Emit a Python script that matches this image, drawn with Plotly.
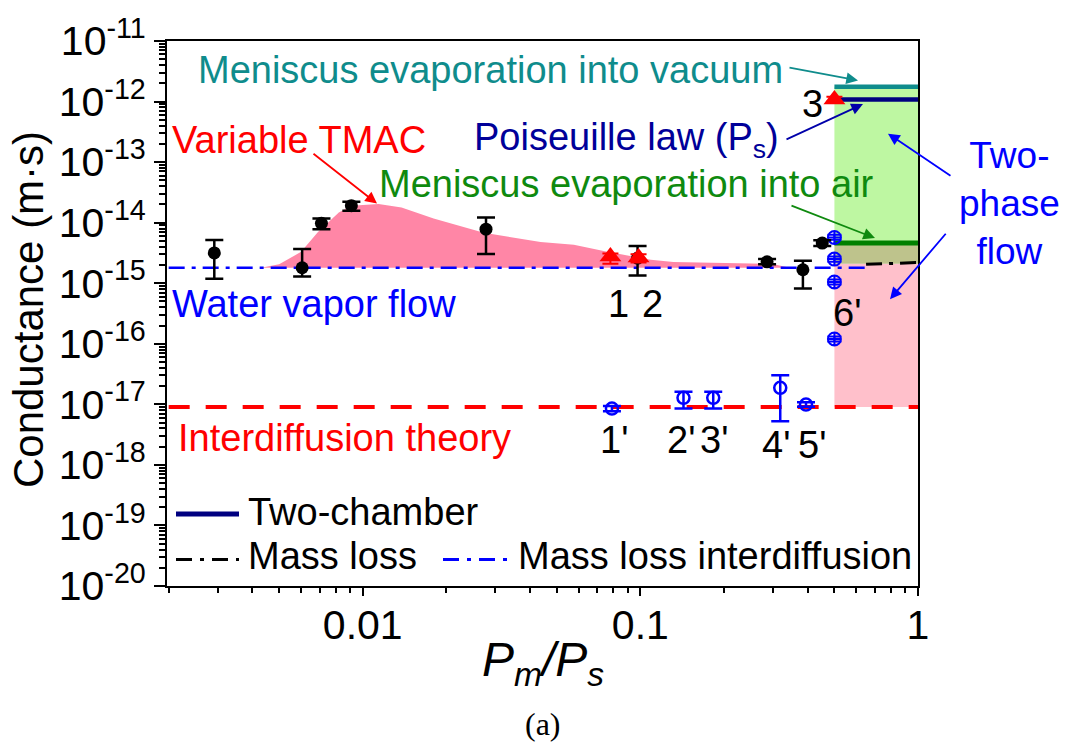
import plotly.graph_objects as go

# ---------------- data ----------------
# Variable-TMAC band: upper edge (lower edge = water vapour flow level)
tmac_x = [0.0043, 0.0050, 0.0060, 0.0069, 0.0082, 0.0091, 0.0114, 0.0138, 0.018,
          0.0273, 0.0437, 0.0576, 0.076, 0.109, 0.1315, 0.30, 0.345]
tmac_y = [1.8e-15, 2.05e-15, 3.3e-15, 7.0e-15, 1.47e-14, 1.9e-14, 2.04e-14, 1.78e-14,
          1.17e-14, 6.8e-15, 4.8e-15, 4.3e-15, 3.3e-15, 2.45e-15, 2.25e-15, 2.08e-15, 1.8e-15]

water_vapor_x = [0.002, 0.65]
water_vapor_level = 1.8e-15
mass_loss_x = [0.65, 1.0]
mass_loss_y = [2.05e-15, 2.2e-15]
interdiff_x = [0.002, 1.0]
interdiff_level = 9.0e-18

two_phase_x = [0.5, 1.0]
vacuum_level = 1.76e-12
poiseuille_level = 1.08e-12
air_level = 4.6e-15
two_phase_mid = 2.1e-15

# mass-loss measurements (black)
ml_x = [0.00292, 0.00605, 0.0071, 0.0091, 0.0278, 0.0977, 0.286, 0.385, 0.452]
ml_y = [3.17e-15, 1.8e-15, 9.75e-15, 1.91e-14, 7.8e-15, 2.6e-15, 2.26e-15, 1.67e-15, 4.6e-15]
ml_hi = [5.15e-15, 3.68e-15, 1.17e-14, 2.22e-14, 1.22e-14, 4.1e-15, 2.5e-15, 2.34e-15, 5.1e-15]
ml_lo = [1.19e-15, 1.29e-15, 7.8e-15, 1.58e-14, 3.05e-15, 1.34e-15, 2.05e-15, 8.2e-16, 4.1e-15]

# two-chamber measurements (red triangles)
tc_x = [0.078, 0.0985, 0.5]
tc_y = [2.75e-15, 2.65e-15, 1.08e-12]
tc_hi = [3.1e-15, 3.0e-15, 1.2e-12]
tc_lo = [2.1e-15, 2.2e-15, 1.0e-12]

# mass-loss interdiffusion measurements (blue open circles)
id_x = [0.079, 0.143, 0.183, 0.319, 0.395]
id_y = [8.5e-18, 1.28e-17, 1.28e-17, 1.87e-17, 9.9e-18]
id_hi = [9.4e-18, 1.61e-17, 1.61e-17, 3.03e-17, 1.08e-17]
id_lo = [7.7e-18, 8.5e-18, 8.5e-18, 5.25e-18, 9.1e-18]
# point 6' group
id6_x = [0.5, 0.5, 0.5, 0.5]
id6_y = [5.7e-15, 2.5e-15, 1.05e-15, 1.2e-16]
id6_hi = [6.3e-15, 2.75e-15, 1.15e-15, 1.32e-16]
id6_lo = [5.2e-15, 2.27e-15, 0.95e-15, 1.09e-16]

y_tick_exp = list(range(-20, -10))
x_tick_vals = [0.01, 0.1, 1]
x_tick_text = ["0.01", "0.1", "1"]

# ---------------- styling ----------------
FONT = "Liberation Sans, Arial, sans-serif"
TEAL = "#0f8c8c"
NAVY = "#000080"
GREEN = "#008000"
BLUE = "#0000ff"
RED = "#ff0000"
TXT = 38

L, R, T, B = 167, 918, 33, 586
W, H = 1066, 742


def pxp(x):
    return (x - L) / (R - L)


def pyp(y):
    return (B - y) / (B - T)


fig = go.Figure()


def band(xs, lo, hi, color):
    fig.add_trace(go.Scatter(
        x=[xs[0], xs[1], xs[1], xs[0], xs[0]],
        y=[lo, lo, hi, hi, lo],
        mode="lines", fill="toself", fillcolor=color,
        line=dict(width=0), hoverinfo="skip", showlegend=False))


band(two_phase_x, interdiff_level, two_phase_mid, "#ffc0cb")
band(two_phase_x, two_phase_mid, air_level, "#bec38c")
band(two_phase_x, air_level, vacuum_level, "#bef7a2")

# TMAC pink area
fig.add_trace(go.Scatter(
    x=tmac_x + tmac_x[::-1],
    y=tmac_y + [water_vapor_level] * len(tmac_x),
    mode="lines", fill="toself", fillcolor="#ff86a6",
    line=dict(width=0), hoverinfo="skip", showlegend=False))

# theory lines
fig.add_trace(go.Scatter(x=interdiff_x, y=[interdiff_level] * 2, mode="lines",
                         line=dict(color=RED, width=4, dash="21px,16px"), showlegend=False))
fig.add_trace(go.Scatter(x=water_vapor_x, y=[water_vapor_level] * 2, mode="lines",
                         line=dict(color=BLUE, width=2.5, dash="16px,7px,4px,7px"), showlegend=False))
fig.add_trace(go.Scatter(x=mass_loss_x, y=mass_loss_y, mode="lines",
                         line=dict(color="black", width=3, dash="16px,7px,4px,7px"), showlegend=False))
fig.add_trace(go.Scatter(x=two_phase_x, y=[vacuum_level] * 2, mode="lines",
                         line=dict(color=TEAL, width=4.5), showlegend=False))
fig.add_trace(go.Scatter(x=two_phase_x, y=[poiseuille_level] * 2, mode="lines",
                         line=dict(color=NAVY, width=4.5), showlegend=False))
fig.add_trace(go.Scatter(x=two_phase_x, y=[air_level] * 2, mode="lines",
                         line=dict(color=GREEN, width=5), showlegend=False))


def err(y, hi, lo):
    return dict(type="data", symmetric=False,
                array=[h - v for h, v in zip(hi, y)],
                arrayminus=[v - l for v, l in zip(y, lo)])


# blue interdiffusion points
e = err(id_y, id_hi, id_lo)
e.update(color=BLUE, thickness=2.5, width=9)
fig.add_trace(go.Scatter(x=id_x, y=id_y, mode="markers", error_y=e,
                         marker=dict(symbol="circle-open", size=12, color=BLUE, line=dict(width=2.5)),
                         showlegend=False))
e = err(id6_y, id6_hi, id6_lo)
e.update(color=BLUE, thickness=2, width=7)
fig.add_trace(go.Scatter(x=id6_x, y=id6_y, mode="markers", error_y=e,
                         marker=dict(symbol="circle-cross-open", size=13, color=BLUE, line=dict(width=2)),
                         showlegend=False))

# black mass-loss points
e = err(ml_y, ml_hi, ml_lo)
e.update(color="black", thickness=2.5, width=9)
fig.add_trace(go.Scatter(x=ml_x, y=ml_y, mode="markers", error_y=e,
                         marker=dict(symbol="circle", size=13, color="black"),
                         showlegend=False))

# red two-chamber triangles
e = err(tc_y, tc_hi, tc_lo)
e.update(color=RED, thickness=2, width=8)
fig.add_trace(go.Scatter(x=tc_x, y=tc_y, mode="markers", error_y=e,
                         marker=dict(symbol="triangle-up", size=19, color=RED),
                         showlegend=False))

# ---------------- axes ----------------
y_minor = [k * 10.0 ** d for d in range(-20, -11) for k in range(2, 10)]
x_minor = [k * 10.0 ** d for d in range(-3, 0) for k in range(2, 10) if k * 10.0 ** d > 0.0019]

fig.update_xaxes(
    type="log", range=[-2.705, 0],
    tickvals=x_tick_vals, ticktext=x_tick_text,
    ticks="outside", ticklen=8, tickwidth=2, tickcolor="black",
    ticklabelstandoff=-6,
    showline=True, linecolor="black", linewidth=2, mirror=True,
    showgrid=False, zeroline=False,
    tickfont=dict(family=FONT, size=41, color="black"),
    minor=dict(tickvals=x_minor, ticks="outside", ticklen=5, tickwidth=1.5, tickcolor="black", showgrid=False),
)
fig.update_yaxes(
    type="log", range=[-20, -11],
    tickvals=[10.0 ** k for k in y_tick_exp],
    ticktext=["10<sup>%d</sup>" % k for k in y_tick_exp],
    ticks="outside", ticklen=11, tickwidth=2, tickcolor="black",
    showline=True, linecolor="black", linewidth=2, mirror=True,
    showgrid=False, zeroline=False,
    tickfont=dict(family=FONT, size=41, color="black"),
    minor=dict(tickvals=y_minor, ticks="outside", ticklen=6, tickwidth=1.5, tickcolor="black", showgrid=False),
)

# ---------------- annotations ----------------
ann = []


def text(s, x, y, color="black", size=TXT, anchor="center", family=FONT, angle=0):
    ann.append(dict(text=s, x=pxp(x), y=pyp(y), xref="paper", yref="paper",
                    xanchor=anchor, yanchor="middle", showarrow=False, textangle=angle,
                    font=dict(family=family, size=size, color=color)))


def arrow(tip, tail, color):
    ann.append(dict(text="", x=pxp(tip[0]), y=pyp(tip[1]), xref="paper", yref="paper",
                    ax=tail[0] - tip[0], ay=tail[1] - tip[1], showarrow=True,
                    arrowhead=2, arrowsize=1.3, arrowwidth=1.8, arrowcolor=color))


text("Meniscus evaporation into vacuum", 490, 62, TEAL)
text("Variable TMAC", 170, 133, RED, anchor="left")
text("Poiseuille law (P<sub>s</sub>)", 472, 133, "#000099", anchor="left")
text("Meniscus evaporation into air", 377, 178, "#0f8a0f", anchor="left")
text("Water vapor flow", 170, 300, BLUE, anchor="left")
text("Interdiffusion theory", 176, 436, RED, anchor="left")
text("Two-<br>phase<br>flow", 957, 198, BLUE, size=37, anchor="left")

for s, x, y in [("1", 618, 300), ("2", 652, 300), ("3", 812, 97), ("6'", 847, 309),
                ("1'", 614, 438), ("2'", 681, 438), ("3'", 714, 438), ("4'", 776, 443), ("5'", 812, 443)]:
    text(s, x, y)

arrow((858, 73), (788, 60), TEAL)
arrow((377, 198), (312, 147), RED)
arrow((863, 97), (785, 133), "#0000aa")
arrow((875, 233), (790, 200), "#0f8a0f")
arrow((888, 127), (952, 170), BLUE)
arrow((890, 295), (947, 228), BLUE)

# legend (drawn manually)
shapes = [
    dict(type="line", xref="paper", yref="paper", x0=pxp(176), x1=pxp(239), y0=pyp(513), y1=pyp(513),
         line=dict(color=NAVY, width=5)),
    dict(type="line", xref="paper", yref="paper", x0=pxp(176), x1=pxp(239), y0=pyp(559), y1=pyp(559),
         line=dict(color="black", width=3, dash="16px,8px,4px,8px")),
    dict(type="line", xref="paper", yref="paper", x0=pxp(443), x1=pxp(508), y0=pyp(559), y1=pyp(559),
         line=dict(color=BLUE, width=3, dash="16px,8px,4px,8px")),
]
text("Two-chamber", 246, 511, anchor="left")
text("Mass loss", 246, 556, anchor="left")
text("Mass loss interdiffusion", 516, 556, anchor="left")

# axis titles
text("Conductance (m·s)", 28, 306, size=42, angle=-90)
text("<i>P<sub>m</sub>/P<sub>s</sub></i>", 543, 664, size=48)
text("(a)", 543, 726, size=32, family="Liberation Serif, Times New Roman, serif")

fig.update_layout(
    width=W, height=H,
    margin=dict(l=L, r=W - R, t=T, b=H - B, pad=0),
    paper_bgcolor="white", plot_bgcolor="white",
    annotations=ann, shapes=shapes, showlegend=False,
)

fig.write_html("out.html")
